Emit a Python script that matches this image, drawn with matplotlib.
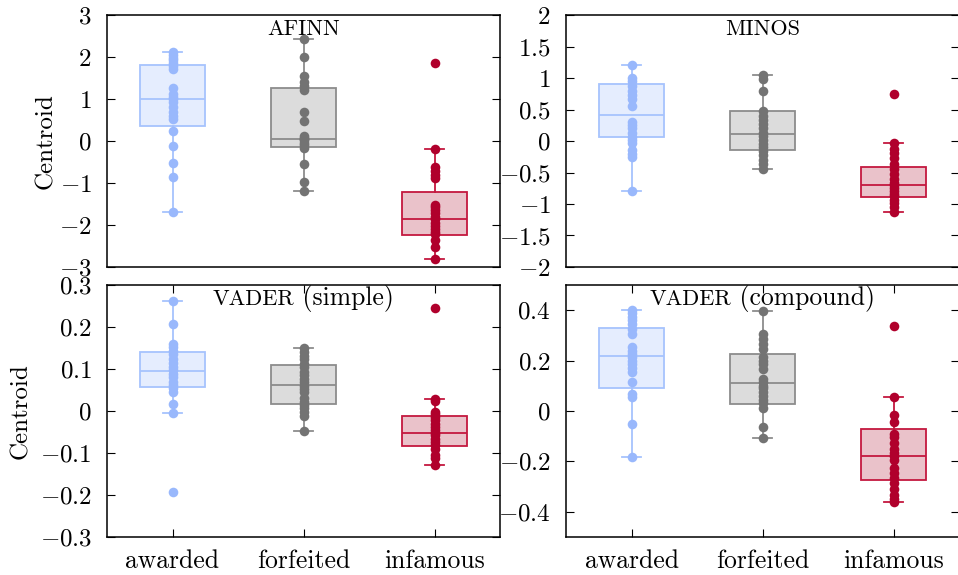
import numpy as np
import matplotlib
matplotlib.use('Agg')
import matplotlib.pyplot as plt


### Data #######################################################################
groups = ['awarded', 'forfeited', 'infamous']

# centroids per text (AFINN)
afinn_awarded = [2.12, 2.05, 1.98, 1.92, 1.85, 1.78, 1.72, 1.27, 1.12, 1.05, 1.0,
                 0.93, 0.82, 0.68, 0.60, 0.52, 0.23, -0.11, -0.53, -0.86, -1.70]
afinn_forfeited = [2.44, 2.0, 1.54, 1.40, 1.30, 1.21, 0.69, 0.47, 0.12, 0.08, 0.05,
                   0.02, -0.04, -0.10, -0.16, -0.54, -0.98, -1.20]
afinn_infamous = [1.86, -0.19, -0.62, -0.72, -0.80, -0.88, -1.52, -1.58, -1.65, -1.72,
                  -1.80, -1.86, -1.95, -2.02, -2.10, -2.17, -2.22, -2.36, -2.52, -2.82]
afinn_q1 = [0.35, -0.14, -2.25]
afinn_med = [1.0, 0.05, -1.86]
afinn_q3 = [1.82, 1.26, -1.21]
afinn_lo = [-1.70, -1.20, -2.82]
afinn_hi = [2.12, 2.44, -0.19]

# MINOS
minos_awarded = [1.21, 1.0, 0.95, 0.88, 0.80, 0.73, 0.66, 0.55, 0.30, 0.26, 0.20,
                 0.13, 0.07, 0.02, -0.03, -0.15, -0.20, -0.26, -0.80]
minos_forfeited = [1.04, 0.98, 0.80, 0.48, 0.40, 0.33, 0.27, 0.20, 0.12, 0.08, 0.02,
                   -0.04, -0.10, -0.16, -0.23, -0.30, -0.37, -0.44]
minos_infamous = [0.74, -0.03, -0.12, -0.19, -0.27, -0.36, -0.44, -0.52, -0.60, -0.66,
                  -0.70, -0.74, -0.79, -0.84, -0.88, -0.93, -0.98, -1.05, -1.12]
minos_q1 = [0.06, -0.14, -0.89]
minos_med = [0.42, 0.11, -0.70]
minos_q3 = [0.91, 0.48, -0.41]
minos_lo = [-0.80, -0.44, -1.12]
minos_hi = [1.21, 1.04, -0.03]

# VADER, simple
simple_awarded = [0.262, 0.206, 0.160, 0.152, 0.143, 0.135, 0.125, 0.115, 0.105, 0.097,
                  0.088, 0.080, 0.070, 0.062, 0.054, 0.045, 0.016, -0.004, -0.194]
simple_forfeited = [0.149, 0.140, 0.132, 0.123, 0.113, 0.104, 0.094, 0.085, 0.076, 0.068,
                    0.060, 0.052, 0.045, 0.030, 0.022, 0.015, 0.008, -0.002, -0.013, -0.048]
simple_infamous = [0.246, 0.029, 0.024, -0.002, -0.008, -0.015, -0.022, -0.030, -0.038,
                   -0.046, -0.052, -0.058, -0.066, -0.074, -0.082, -0.090, -0.105, -0.113, -0.129]
simple_q1 = [0.056, 0.017, -0.083]
simple_med = [0.095, 0.063, -0.052]
simple_q3 = [0.140, 0.110, -0.013]
simple_lo = [-0.004, -0.048, -0.129]
simple_hi = [0.262, 0.149, 0.029]

# VADER, compound
compound_awarded = [0.402, 0.390, 0.375, 0.360, 0.346, 0.326, 0.306, 0.253, 0.240, 0.225,
                    0.214, 0.200, 0.185, 0.170, 0.154, 0.115, 0.069, 0.056, -0.050, -0.182]
compound_forfeited = [0.396, 0.306, 0.287, 0.267, 0.247, 0.215, 0.200, 0.185, 0.168, 0.128,
                      0.115, 0.100, 0.090, 0.075, 0.060, 0.045, 0.030, 0.010, -0.063, -0.107]
compound_infamous = [0.337, 0.055, -0.017, -0.043, -0.090, -0.105, -0.125, -0.150, -0.165,
                     -0.180, -0.195, -0.225, -0.245, -0.265, -0.285, -0.310, -0.335, -0.350, -0.363]
compound_q1 = [0.090, 0.027, -0.272]
compound_med = [0.218, 0.110, -0.178]
compound_q3 = [0.329, 0.225, -0.072]
compound_lo = [-0.182, -0.107, -0.363]
compound_hi = [0.402, 0.396, 0.055]

afinn_ticks = [-3, -2, -1, 0, 1, 2, 3]
minos_ticks = [-2, -1.5, -1, -0.5, 0, 0.5, 1, 1.5, 2]
simple_ticks = [-0.3, -0.2, -0.1, 0, 0.1, 0.2, 0.3]
compound_ticks = [-0.4, -0.2, 0, 0.2, 0.4]
################################################################################

marker_colors = ['#99b8fc', '#737373', '#b0002c']
edge_colors = ['#a6c3fd', '#8c8c8c', '#c4183f']
fill_colors = ['#e5edfe', '#dcdcdc', '#eac2ca']

plt.rcParams['font.family'] = 'cmr10'
plt.rcParams['mathtext.fontset'] = 'cm'
plt.rcParams['axes.unicode_minus'] = False

W, H = 958, 575
fig = plt.figure(figsize=(W / 100, H / 100), dpi=100)


def px_axes(left, top, right, bottom):
    return fig.add_axes([left / W, 1 - bottom / H, (right - left) / W, (bottom - top) / H])


def draw_panel(ax, data, q1, med, q3, lo, hi, ylim, yticks, show_x):
    stats = []
    for i in range(3):
        stats.append(dict(med=med[i], q1=q1[i], q3=q3[i], whislo=lo[i], whishi=hi[i], fliers=[]))
    parts = ax.bxp(stats, positions=[0, 1, 2], widths=0.5, capwidths=0.14,
                   patch_artist=True, showfliers=False)
    for i in range(3):
        parts['boxes'][i].set_facecolor(fill_colors[i])
        parts['boxes'][i].set_edgecolor(edge_colors[i])
        parts['boxes'][i].set_linewidth(1.3)
        parts['medians'][i].set_color(edge_colors[i])
        parts['medians'][i].set_linewidth(1.3)
        for k in (2 * i, 2 * i + 1):
            parts['whiskers'][k].set_color(edge_colors[i])
            parts['whiskers'][k].set_linewidth(1.3)
            parts['caps'][k].set_color(edge_colors[i])
            parts['caps'][k].set_linewidth(1.3)
        ax.scatter(np.full(len(data[i]), i), data[i], s=48, color=marker_colors[i],
                   zorder=5, linewidths=0)

    ax.set_xlim(-0.5, 2.5)
    ax.set_ylim(*ylim)
    ax.set_yticks(yticks)
    ax.set_yticklabels(['$%g$' % (round(v, 2) + 0.0) for v in yticks])
    ax.tick_params(axis='y', direction='in', left=True, right=True, length=6, width=0.8,
                   pad=11, labelsize=18)
    if show_x:
        ax.set_xticks([0, 1, 2])
        ax.set_xticklabels(groups)
        ax.tick_params(axis='x', direction='in', top=True, bottom=True, length=6, width=0.8,
                       pad=9, labelsize=18.5)
    else:
        ax.set_xticks([])
    for sp in ax.spines.values():
        sp.set_linewidth(1.1)


def add_title(ax, caps, rest=''):
    # small caps part plus normal text, centred as a whole
    t1 = ax.annotate(caps, xy=(0.5, 1), xycoords='axes fraction', xytext=(0, -14.4),
                     textcoords='offset points', ha='right', va='baseline', fontsize=16)
    t2 = ax.annotate(rest, xy=(0.5, 1), xycoords='axes fraction', xytext=(0, -14.4),
                     textcoords='offset points', ha='left', va='baseline', fontsize=18.5)
    return t1, t2


ax1 = px_axes(107, 15, 500, 267)
ax2 = px_axes(566, 15, 959, 267)
ax3 = px_axes(107, 285, 500, 537)
ax4 = px_axes(566, 285, 959, 537)

draw_panel(ax1, [afinn_awarded, afinn_forfeited, afinn_infamous],
           afinn_q1, afinn_med, afinn_q3, afinn_lo, afinn_hi, (-3, 3), afinn_ticks, False)
draw_panel(ax2, [minos_awarded, minos_forfeited, minos_infamous],
           minos_q1, minos_med, minos_q3, minos_lo, minos_hi, (-2, 2), minos_ticks, False)
draw_panel(ax3, [simple_awarded, simple_forfeited, simple_infamous],
           simple_q1, simple_med, simple_q3, simple_lo, simple_hi, (-0.3, 0.3), simple_ticks, True)
draw_panel(ax4, [compound_awarded, compound_forfeited, compound_infamous],
           compound_q1, compound_med, compound_q3, compound_lo, compound_hi, (-0.5, 0.5),
           compound_ticks, True)

ax1.set_ylabel('Centroid', fontsize=18)
ax1.yaxis.set_label_coords((57 - 107) / 393, 0.5)
ax3.set_ylabel('Centroid', fontsize=18)
ax3.yaxis.set_label_coords((32 - 107) / 393, 0.5)

titles = [add_title(ax1, 'AFINN'), add_title(ax2, 'MINOS'),
          add_title(ax3, 'VADER', ' (simple)'), add_title(ax4, 'VADER', ' (compound)')]

fig.canvas.draw()
renderer = fig.canvas.get_renderer()
for t1, t2 in titles:
    w1 = t1.get_window_extent(renderer).width
    w2 = t2.get_window_extent(renderer).width if t2.get_text() else 0
    shift = (w1 - w2) / 2 * 72 / fig.dpi
    t1.xyann = (shift, -14.4)
    t2.xyann = (shift, -14.4)

fig.savefig('out.png', dpi=100)
